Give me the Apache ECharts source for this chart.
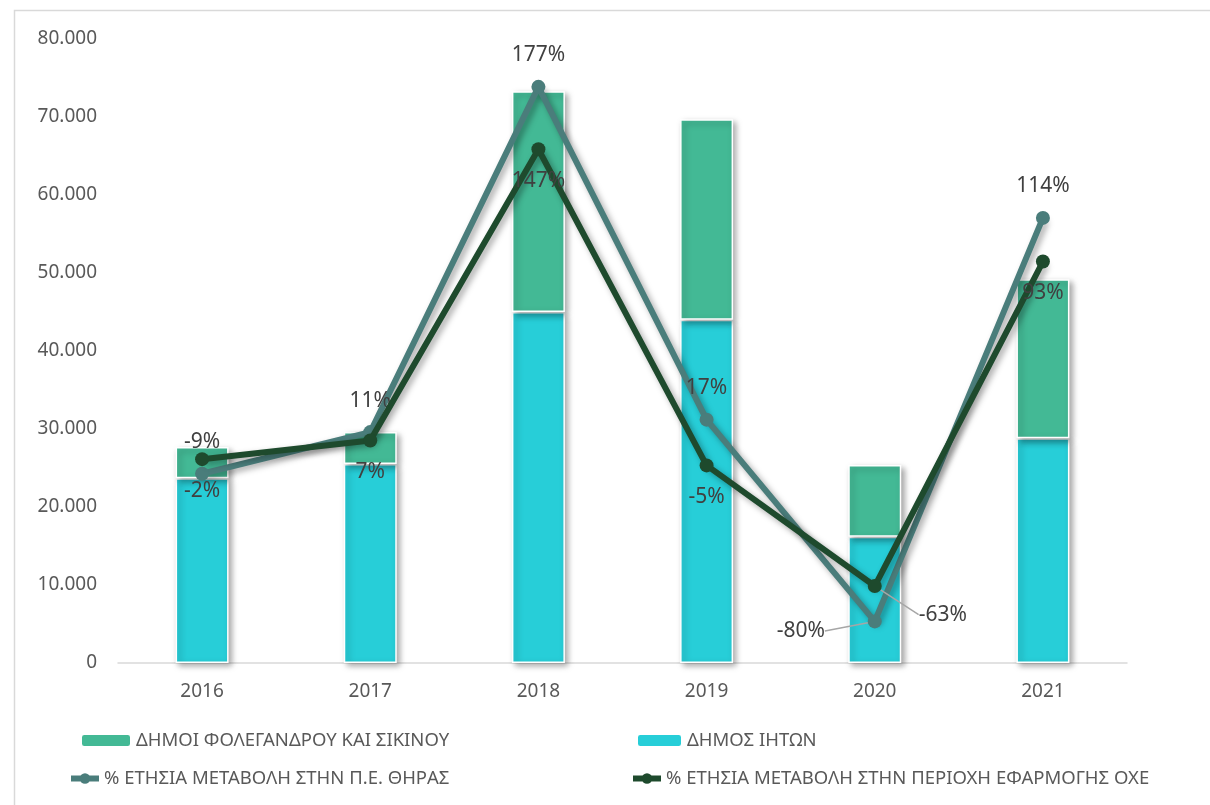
<!DOCTYPE html>
<html><head><meta charset="utf-8">
<script src="https://cdn.jsdelivr.net/npm/echarts@6/dist/echarts.min.js"></script>
<style>html,body{margin:0;padding:0;background:#fff}#c{width:1210px;height:805px}</style>
</head><body><div id="c"></div>
<script>
const categories = ['2016','2017','2018','2019','2020','2021'];
const iton = [23700, 25500, 45000, 44000, 16200, 28800];
const folegandrosSikinos = [4000, 4100, 28300, 25700, 9200, 20400];
const changeThira = [-9, 11, 177, 17, -80, 114];
const changeOxe = [-2, 7, 147, -5, -63, 93];
const names = ['ΔΗΜΟΙ ΦΟΛΕΓΑΝΔΡΟΥ ΚΑΙ ΣΙΚΙΝΟΥ','ΔΗΜΟΣ ΙΗΤΩΝ','% ΕΤΗΣΙΑ ΜΕΤΑΒΟΛΗ ΣΤΗΝ Π.Ε. ΘΗΡΑΣ','% ΕΤΗΣΙΑ ΜΕΤΑΒΟΛΗ ΣΤΗΝ ΠΕΡΙΟΧΗ ΕΦΑΡΜΟΓΗΣ ΟΧΕ'];

const FONT = 'Noto Sans';
const TXT = '#595959';
const cGreen = '#43B995', cCyan = '#27CED8', cGray = '#4A7D7B', cDark = '#1E4A2D';
const chart = echarts.init(document.getElementById('c'), null, {renderer:'canvas'});
const shadow = {shadowBlur: 6, shadowColor: 'rgba(0,0,0,0.35)', shadowOffsetX: 3, shadowOffsetY: 3};

const thiraData = changeThira.map((v,i)=> i===4 ? {value:v, labelLine:{show:true, lineStyle:{color:'#a6a6a6', width:1.5}}} : v);
const oxeData = changeOxe.map((v,i)=> i===4 ? {value:v, labelLine:{show:true, lineStyle:{color:'#a6a6a6', width:1.5}}} : v);

const legendBase = {itemHeight: 13, textStyle:{fontFamily:FONT, fontSize:18.5, color:TXT}, itemGap: 0};
chart.setOption({
  animation: false,
  textStyle: {fontFamily: FONT},
  graphic: [{type:'rect', shape:{x:14.5, y:10.5, width:1210, height:800}, style:{fill:'none', stroke:'#d9d9d9', lineWidth:1.5}, silent:true}],
  grid: {left:118, right:83, top:39, bottom:142},
  legend: [
    Object.assign({}, legendBase, {left:75, top:726, itemWidth:50, data:[names[0]]}),
    Object.assign({}, legendBase, {left:631, top:726, itemWidth:45, data:[names[1]]}),
    Object.assign({}, legendBase, {left:63, top:764, itemWidth:28, lineStyle:{width:6}, data:[names[2]]}),
    Object.assign({}, legendBase, {left:625, top:764, itemWidth:28, lineStyle:{width:6}, data:[names[3]]})
  ],
  xAxis: {type:'category', data:categories, axisTick:{show:false},
    axisLine:{lineStyle:{color:'#d9d9d9', width:1.5}},
    axisLabel:{fontFamily:FONT, fontSize:19, color:TXT, margin:19}},
  yAxis: [
    {type:'value', min:0, max:80000, interval:10000, splitLine:{show:false}, axisLine:{show:false}, axisTick:{show:false},
     axisLabel:{fontFamily:FONT, fontSize:19, color:TXT, margin:21,
       formatter: v => v===0 ? '0' : (v/1000).toFixed(3)}},
    {type:'value', min:-100, max:200, show:false, splitLine:{show:false}}
  ],
  series: [
    {name:names[1], type:'bar', stack:'s', data:iton, barWidth:53,
     itemStyle:Object.assign({color:cCyan, borderColor:'#fff', borderWidth:1.5}, shadow), z:2},
    {name:names[0], type:'bar', stack:'s', data:folegandrosSikinos, barWidth:53,
     itemStyle:Object.assign({color:cGreen, borderColor:'#fff', borderWidth:1.5}, shadow), z:2},
    {name:names[2], type:'line', yAxisIndex:1, data:thiraData, symbol:'circle', symbolSize:14,
     lineStyle:Object.assign({color:cGray, width:6}, shadow), itemStyle:{color:cGray},
     label:{show:true, position:'top', distance:14, fontFamily:FONT, fontSize:21, color:'#404040', formatter: p => p.value+'%'},
     labelLayout: p => p.dataIndex===4 ? {dx:-74, dy:41} : {},
     z:5},
    {name:names[3], type:'line', yAxisIndex:1, data:oxeData, symbol:'circle', symbolSize:14,
     lineStyle:Object.assign({color:cDark, width:6}, shadow), itemStyle:{color:cDark},
     label:{show:true, position:'bottom', distance:14, fontFamily:FONT, fontSize:21, color:'#404040', formatter: p => p.value+'%'},
     labelLayout: p => p.dataIndex===4 ? {dx:68, dy:-3} : {},
     z:6}
  ]
});
</script></body></html>
